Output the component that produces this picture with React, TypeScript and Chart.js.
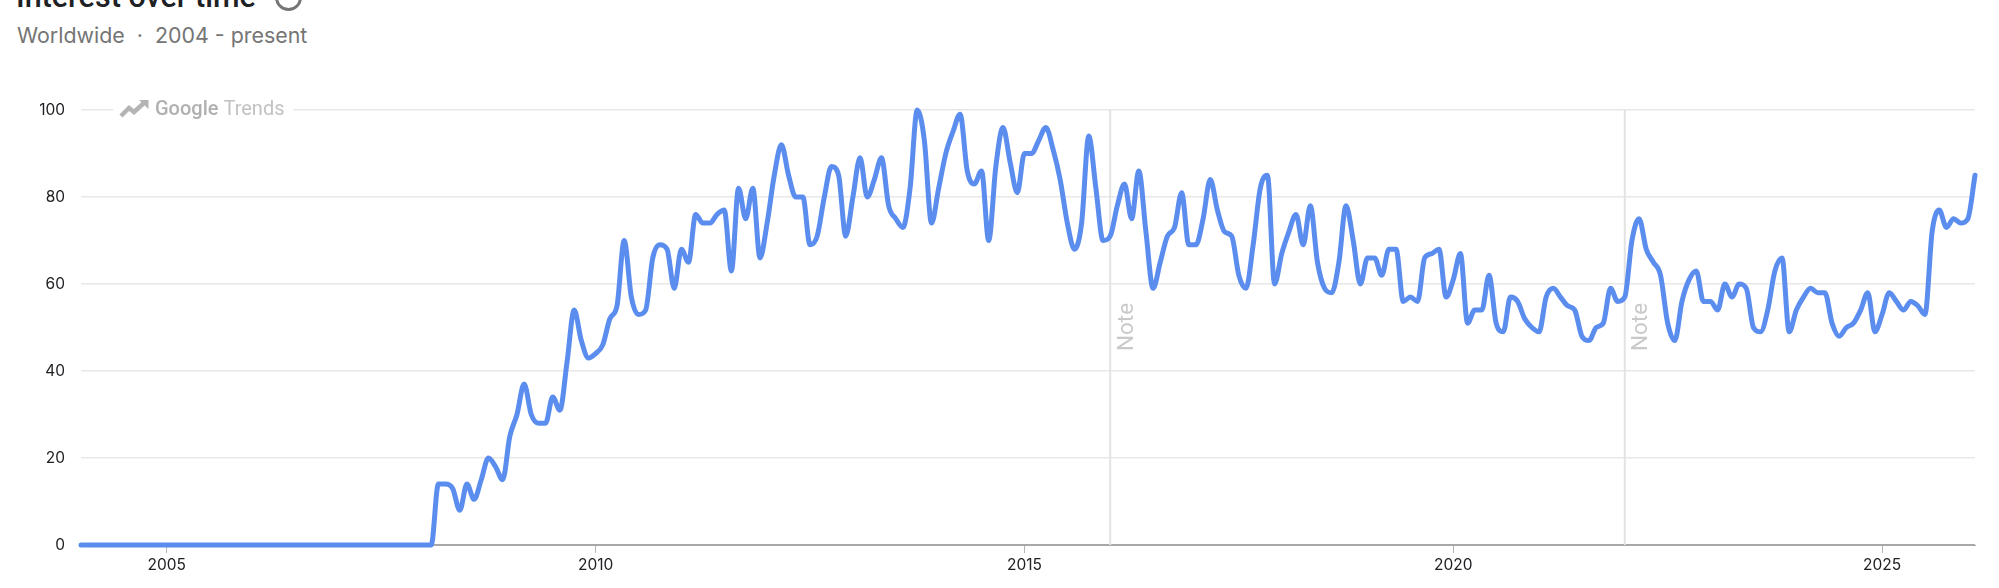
import React, { useEffect, useRef } from "react";
import { Chart, registerables } from "chart.js";

Chart.register(...registerables);

const startYear = 2004;
const zeroYears = [
  0,0,0,0,0,0,0,0,0,0,0,0, 0,0,0,0,0,0,0,0,0,0,0,0,
  0,0,0,0,0,0,0,0,0,0,0,0, 0,0,0,0,0,0,0,0,0,0,0,0,
];
const values2008to2015 = [
  0,0,14,14,13,8,14,10.5,15,20,18,15,
  25,30,37,30,28,28,34,31,42,54,47,43,
  44,46,52,55,70,57,53,54,66,69,68,59,
  68,65,76,74,74,76,77,63,82,75,82,66,
  74,85,92,85,80,80,69,71,80,87,85,71,
  80,89,80,84,89,78,75,73,82,100,93,74,
  82,90,95,99,86,83,86,70,87,96,88,81,
  90,90,93,96,91,84,74,68,74,94,82,70,
];
const values2016to2026 = [
  71,78,83,75,86,72,59,65,71,73,81,69,
  69,75,84,77,72,71,62,59,69,82,85,60,
  67,72,76,69,78,65,59,58,65,78,70,60,
  66,66,62,68,68,56,57,56,66,67,68,57,
  61,67,51,54,54,62,51,49,57,56,52,50,
  49,57,59,57,55,54,48,47,50,51,59,56,
  57,70,75,68,65,62,51,47,56,61,63,56,
  56,54,60,57,60,59,50,49,54,63,66,49,
  54,57,59,58,58,51,48,50,51,54,58,49,
  53,58,56,54,56,55,53,72,77,73,75,74,
  75,85,
];
const interest = [...zeroYears, ...values2008to2015, ...values2016to2026];
const yearTicks = [2005, 2010, 2015, 2020, 2025];
const interestTicks = [0, 20, 40, 60, 80, 100];
const noteYears = [2016, 2022];
const noteLabel = "Note";
const titleText = "Interest over time";
const subtitleText = "Worldwide  ·  2004 - present";
const watermarkBrand = ["Google", "Trends"];

const decorations = {
  id: "decorations",
  beforeDatasetsDraw(chart: any) {
    const { ctx, scales, chartArea } = chart;
    const xs = scales.x;
    const ys = scales.y;
    ctx.save();
    noteYears.forEach((yr) => {
      const px = xs.getPixelForValue(yr);
      ctx.strokeStyle = "#e3e3e3";
      ctx.lineWidth = 2;
      ctx.beginPath();
      ctx.moveTo(px, chartArea.top);
      ctx.lineTo(px, chartArea.bottom);
      ctx.stroke();
      ctx.save();
      ctx.translate(px + 17, 327);
      ctx.rotate(-Math.PI / 2);
      ctx.fillStyle = "#c9c9c9";
      ctx.font = "22.5px Roboto";
      ctx.textAlign = "center";
      ctx.textBaseline = "middle";
      ctx.fillText(noteLabel, 0, 0);
      ctx.restore();
    });
    const wy = ys.getPixelForValue(100);
    const left = chartArea.left;
    ctx.fillStyle = "#ffffff";
    ctx.fillRect(left + 32, wy - 12, 180, 24);
    ctx.strokeStyle = "#b4b4b4";
    ctx.fillStyle = "#b4b4b4";
    ctx.lineWidth = 4.5;
    ctx.lineJoin = "miter";
    ctx.beginPath();
    ctx.moveTo(left + 40, wy + 6);
    ctx.lineTo(left + 48, wy - 2);
    ctx.lineTo(left + 53, wy + 2);
    ctx.lineTo(left + 63, wy - 7);
    ctx.stroke();
    ctx.beginPath();
    ctx.moveTo(left + 58, wy - 10);
    ctx.lineTo(left + 67.5, wy - 10);
    ctx.lineTo(left + 67.5, wy - 1);
    ctx.closePath();
    ctx.fill();
    ctx.textAlign = "left";
    ctx.textBaseline = "middle";
    ctx.font = "500 20px Roboto";
    ctx.fillStyle = "#b0b0b0";
    ctx.fillText(watermarkBrand[0], left + 74, wy);
    const w = ctx.measureText(watermarkBrand[0] + " ").width;
    ctx.font = "400 20px Roboto";
    ctx.fillStyle = "#c2c2c2";
    ctx.fillText(watermarkBrand[1], left + 74 + w, wy);
    ctx.restore();
  },
};

export default function App() {
  const ref = useRef<HTMLCanvasElement>(null);
  useEffect(() => {
    const chart = new Chart(ref.current as HTMLCanvasElement, {
      type: "line",
      data: {
        datasets: [
          {
            data: interest.map((v, i) => ({ x: startYear + i / 12, y: v })),
            borderColor: "#5b8def",
            borderWidth: 5,
            borderCapStyle: "round",
            borderJoinStyle: "round",
            pointRadius: 0,
            cubicInterpolationMode: "monotone",
            clip: false,
          },
        ],
      },
      options: {
        animation: false,
        responsive: false,
        layout: { padding: { top: 110, right: 24, left: 0, bottom: 0 } },
        plugins: { legend: { display: false }, tooltip: { enabled: false } },
        scales: {
          x: {
            type: "linear",
            min: startYear,
            max: startYear + (interest.length - 1) / 12,
            afterBuildTicks: (s: any) => {
              s.ticks = yearTicks.map((value) => ({ value }));
            },
            afterFit: (s: any) => {
              s.height = 43;
            },
            grid: {
              drawOnChartArea: false,
              drawTicks: true,
              tickLength: 8,
              color: "#b5b5b5",
              lineWidth: 1,
            },
            border: { display: true, color: "#a8a8a8", width: 1 },
            ticks: {
              autoSkip: false,
              maxRotation: 0,
              padding: 3,
              color: "#202124",
              font: { family: "Inter", size: 15.5 },
              callback: (v: any) => String(v),
            },
          },
          y: {
            min: 0,
            max: 100,
            afterBuildTicks: (s: any) => {
              s.ticks = interestTicks.map((value) => ({ value }));
            },
            afterFit: (s: any) => {
              s.width = 81;
            },
            grid: {
              color: (c: any) => (c.tick && c.tick.value === 0 ? "#a8a8a8" : "#e8e8e8"),
              lineWidth: 1.5,
              drawTicks: false,
            },
            border: { display: false },
            ticks: {
              padding: 16,
              color: "#202124",
              font: { family: "Inter", size: 15.5 },
              callback: (v: any) => String(v),
            },
          },
        },
      },
      plugins: [decorations],
    } as any);
    return () => chart.destroy();
  }, []);

  return (
    <div style={{ position: "absolute", left: 0, top: 0, width: 1999, height: 588, overflow: "hidden", background: "#fff" }}>
      <div style={{ position: "absolute", left: 16, top: -21, fontFamily: "Roboto", fontWeight: 500, fontSize: 30.5, lineHeight: "36px", color: "#202124", whiteSpace: "nowrap" }}>
        {titleText}
      </div>
      <div style={{ position: "absolute", left: 275, top: -16, width: 21, height: 21, border: "3px solid #757575", borderRadius: "50%" }} />
      <div style={{ position: "absolute", left: 17, top: 22, fontFamily: "Inter", fontSize: 21.4, lineHeight: "26px", color: "#757575", whiteSpace: "pre" }}>
        {subtitleText}
      </div>
      <canvas ref={ref} width={1999} height={588} style={{ position: "absolute", left: 0, top: 0, display: "block" }} />
    </div>
  );
}
